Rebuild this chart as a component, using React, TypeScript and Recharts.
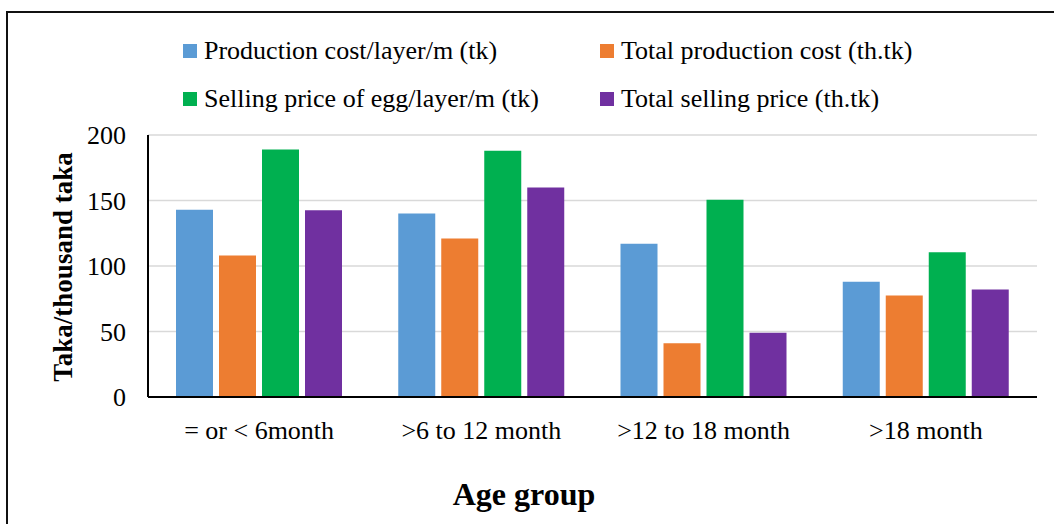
import React from "react";
import {
  BarChart,
  Bar,
  XAxis,
  YAxis,
  CartesianGrid,
  Legend,
  Label,
} from "recharts";

const categories = ["= or < 6month", ">6 to 12 month", ">12 to 18 month", ">18 month"];
const productionCostPerLayer = [143, 140, 117, 88];
const totalProductionCost = [108, 121, 41, 77.5];
const sellingPricePerLayer = [189, 188, 150.5, 110.5];
const totalSellingPrice = [142.5, 160, 49, 82];
const yTicks = [0, 50, 100, 150, 200];

const seriesNames = [
  "Production cost/layer/m (tk)",
  "Total production cost (th.tk)",
  "Selling price of egg/layer/m (tk)",
  "Total selling price (th.tk)",
];
const seriesColors = ["#5b9bd5", "#ed7d31", "#00b050", "#7030a0"];

const data = categories.map((c, i) => ({
  group: c,
  s0: productionCostPerLayer[i],
  s1: totalProductionCost[i],
  s2: sellingPricePerLayer[i],
  s3: totalSellingPrice[i],
}));

const FONT = '"Liberation Serif", "Times New Roman", serif';

// two rows x two columns, like the original legend
const renderLegend = (props: any) => {
  const payload = [...(props.payload || [])].sort(
    (a: any, b: any) => seriesNames.indexOf(a.value) - seriesNames.indexOf(b.value)
  );
  return (
    <div
      style={{
        position: "absolute",
        left: 183,
        top: 36,
        display: "grid",
        gridTemplateColumns: "417px auto",
        rowGap: 18,
        fontFamily: FONT,
        fontSize: 26,
        lineHeight: "30px",
        color: "#000",
      }}
    >
      {payload.map((p: any) => (
        <div key={p.value} style={{ display: "flex", alignItems: "center", whiteSpace: "nowrap" }}>
          <span
            style={{ width: 14, height: 14, background: p.color, marginRight: 7, display: "inline-block" }}
          />
          <span>{p.value}</span>
        </div>
      ))}
    </div>
  );
};

export default function App() {
  return (
    <div
      style={{
        position: "absolute",
        left: 0,
        top: 0,
        width: 1054,
        height: 524,
        overflow: "hidden",
        background: "#fff",
      }}
    >
      <div
        style={{
          position: "absolute",
          left: 6,
          top: 11,
          width: 1100,
          height: 600,
          border: "2px solid #111",
        }}
      />
      <div style={{ position: "absolute", left: 0, top: 0 }}>
        <BarChart
          width={1054}
          height={524}
          data={data}
          margin={{ top: 135, right: 17, left: 88, bottom: 67 }}
          barGap={6}
          barSize={37}
        >
          <CartesianGrid vertical={false} stroke="#d9d9d9" strokeWidth={1.5} />
          <XAxis
            dataKey="group"
            height={60}
            axisLine={{ stroke: "#000", strokeWidth: 2 }}
            tickLine={false}
            tickSize={0}
            tickMargin={24}
            tick={{ fill: "#000", fontSize: 26, fontFamily: FONT }}
            interval={0}
          >
            <Label
              content={(p: any) => {
                const vb = p.viewBox || {};
                return (
                  <text
                    x={524}
                    y={vb.y + vb.height + 48}
                    textAnchor="middle"
                    fontFamily={FONT}
                    fontSize={32}
                    fontWeight="bold"
                    fill="#000"
                  >
                    Age group
                  </text>
                );
              }}
            />
          </XAxis>
          <YAxis
            width={60}
            domain={[0, 200]}
            ticks={yTicks}
            interval={0}
            axisLine={{ stroke: "#000", strokeWidth: 2 }}
            tickLine={false}
            tickSize={0}
            tickMargin={22}
            tick={{ fill: "#000", fontSize: 26, fontFamily: FONT }}
          >
            <Label
              content={(p: any) => {
                const vb = p.viewBox || {};
                const cx = 63;
                const cy = vb.y + vb.height / 2 + 1;
                return (
                  <text
                    x={cx}
                    y={cy}
                    transform={`rotate(-90 ${cx} ${cy})`}
                    textAnchor="middle"
                    dominantBaseline="central"
                    fontFamily={FONT}
                    fontSize={27}
                    fontWeight="bold"
                    fill="#000"
                  >
                    Taka/thousand taka
                  </text>
                );
              }}
            />
          </YAxis>
          <Legend
            layout="vertical"
            align="center"
            verticalAlign="middle"
            wrapperStyle={{ position: "absolute", left: 0, top: 0, width: 1054, height: 0 }}
            content={renderLegend}
          />
          {seriesNames.map((name, i) => (
            <Bar
              key={name}
              dataKey={`s${i}`}
              name={name}
              fill={seriesColors[i]}
              isAnimationActive={false}
            />
          ))}
        </BarChart>
      </div>
    </div>
  );
}
